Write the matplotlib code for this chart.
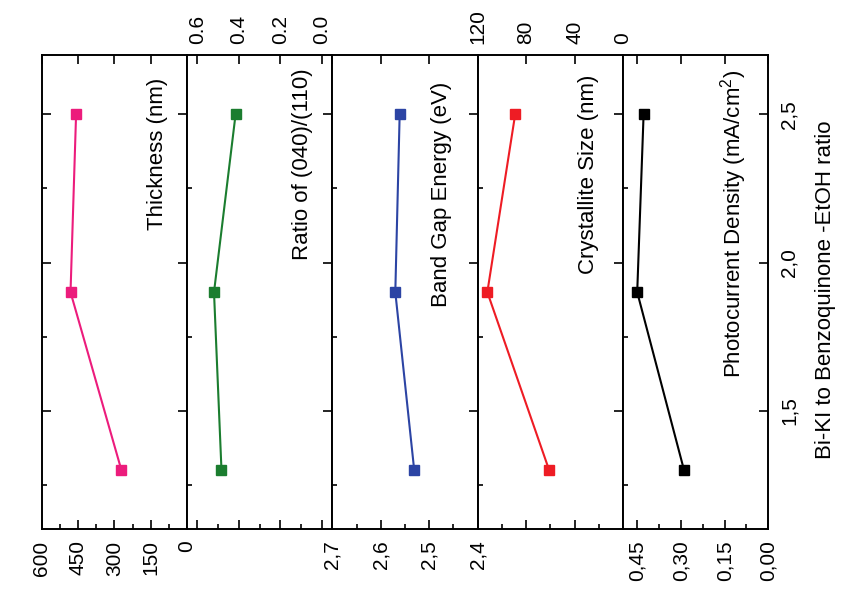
import matplotlib
matplotlib.use('Agg')
import matplotlib.pyplot as plt
from matplotlib.ticker import MultipleLocator, FixedLocator, FixedFormatter

plt.rcParams['font.family'] = ['Liberation Sans', 'DejaVu Sans']
plt.rcParams['mathtext.default'] = 'regular'

# data (ratio on the vertical axis, each quantity in its own column panel)
ratio = [1.3, 1.9, 2.5]
thickness = [271, 481, 458]
peak_ratio = [0.484, 0.520, 0.416]
band_gap = [2.531, 2.570, 2.561]
crystallite = [61, 112, 89]
photocurrent = [0.290, 0.451, 0.429]

panel_labels = ['Thickness (nm)', 'Ratio of (040)/(110)', 'Band Gap Energy (eV)',
                'Crystallite Size (nm)', 'Photocurrent Density (mA/cm$^{2}$)']
value_ticks = [[600, 450, 300, 150, 0], [0.6, 0.4, 0.2, 0.0], [2.7, 2.6, 2.5, 2.4],
               [120, 80, 40, 0], [0.45, 0.30, 0.15, 0.0]]
value_ticklabels = [['600', '450', '300', '150', '0'], ['0.6', '0.4', '0.2', '0.0'],
                    ['2,7', '2,6', '2,5', '2,4'], ['120', '80', '40', '0'],
                    ['0,45', '0,30', '0,15', '0,00']]
ratio_ticks = [1.5, 2.0, 2.5]
ratio_ticklabels = ['1,5', '2,0', '2,5']
ratio_label = 'Bi-KI to Benzoquinone -EtOH ratio'

series = [thickness, peak_ratio, band_gap, crystallite, photocurrent]
colors = ['#ec1c7c', '#1b7d2f', '#2c44a4', '#ee1c24', '#000000']
limits = [(600, 0), (0.65, -0.05), (2.7, 2.4), (120, 0), (0.5, 0)]
minor_steps = [75, 0.1, 0.05, 20, 0.075]
label_x = [0.80, 0.795, 0.75, 0.765, 0.763]
label_y = [0.953, 0.972, 0.943, 0.958, 0.968]

fig = plt.figure(figsize=(8.51, 6.07), dpi=100)
axes = fig.subplots(1, 5, sharey=True)
fig.subplots_adjust(left=0.049, right=0.9028, top=0.9094, bottom=0.128, wspace=0)

for i, ax in enumerate(axes):
    ax.plot(series[i], ratio, '-s', color=colors[i], lw=1.5, ms=7)
    ax.set_xlim(*limits[i])
    ax.set_ylim(1.1, 2.7)
    ax.xaxis.set_major_locator(FixedLocator(value_ticks[i]))
    ax.xaxis.set_major_formatter(FixedFormatter(value_ticklabels[i]))
    ax.xaxis.set_minor_locator(MultipleLocator(minor_steps[i]))
    ax.yaxis.set_major_locator(FixedLocator(ratio_ticks))
    ax.yaxis.set_major_formatter(FixedFormatter(ratio_ticklabels))
    ax.yaxis.set_minor_locator(MultipleLocator(0.25))
    for s in ax.spines.values():
        s.set_linewidth(1.4)
    ax.tick_params(axis='both', which='both', direction='in', width=1.2,
                   labelsize=15, pad=8)
    ax.tick_params(which='major', length=6.5)
    ax.tick_params(which='minor', length=3.3)
    ax.tick_params(axis='x', top=True, bottom=True, labelrotation=90,
                   labelbottom=(i % 2 == 0), labeltop=(i % 2 == 1))
    ax.tick_params(axis='y', left=(i == 0), right=True, labelleft=False,
                   labelright=(i == 4), labelrotation=90)
    ax.text(label_x[i], label_y[i], panel_labels[i], transform=ax.transAxes,
            rotation=90, ha='center', va='top', fontsize=16)

for lbl in axes[4].get_yticklabels():
    lbl.set_va('center')

fig.text(0.9706, 0.522, ratio_label, rotation=90, ha='center', va='center', fontsize=16)

fig.savefig('out.png', dpi=100)
